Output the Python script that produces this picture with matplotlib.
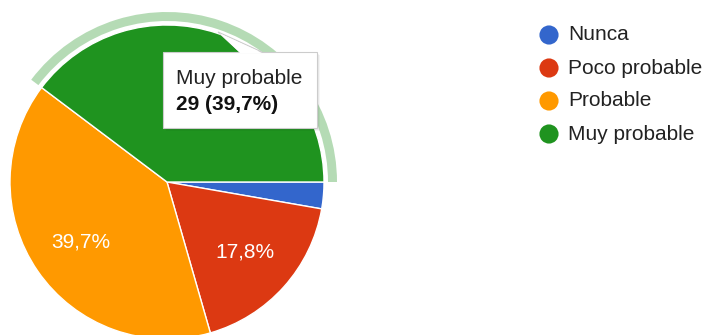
import numpy as np
import matplotlib.pyplot as plt
from matplotlib.patches import Wedge, Rectangle, Polygon

plt.rcParams['font.family'] = ['Liberation Sans', 'DejaVu Sans']

## DATA
labels = ['Nunca', 'Poco probable', 'Probable', 'Muy probable']
counts = [2, 13, 29, 29]
colors = ['#3366cc', '#dc3912', '#ff9900', '#1f931f']
highlight = 3  # slice under the tooltip

W, H = 705, 335
CX, CY, R = 167, H - 182, 157

fig = plt.figure(figsize=(W / 100, H / 100), dpi=100)
ax = fig.add_axes([0, 0, 1, 1])

total = sum(counts)


def pct_label(p):
    # small slices get no label
    if p < 5:
        return ''
    return ('%.1f%%' % p).replace('.', ',')


wedges, texts, autotexts = ax.pie(
    counts, colors=colors, startangle=0, counterclock=False,
    center=(CX, CY), radius=R, autopct=pct_label, pctdistance=0.67,
    wedgeprops=dict(edgecolor='white', linewidth=1),
    textprops=dict(color='white', fontsize=15))
# the tooltip sits on top of this slice's label
autotexts[highlight].remove()

ax.set_xlim(0, W)
ax.set_ylim(0, H)
ax.set_aspect('equal')
ax.axis('off')

# hover ring around the highlighted slice
hw = wedges[highlight]
ring = Wedge((CX, CY), 170, hw.theta1, hw.theta2, width=9,
             facecolor=colors[highlight], alpha=0.33, edgecolor='none')
ax.add_patch(ring)

# tooltip
bx0, by0, bx1, by1 = 163, H - 128, 317, H - 52
for i, a in enumerate([0.06, 0.05, 0.04]):
    ax.add_patch(Rectangle((bx0 + 1 + i, by0 - 1 - i), bx1 - bx0, by1 - by0,
                           facecolor='black', alpha=a, edgecolor='none', zorder=5))
ax.add_patch(Polygon([(218, H - 32), (240, by1), (262, by1)], closed=True,
                     facecolor='white', edgecolor='#cccccc', linewidth=0.8, zorder=6))
ax.add_patch(Rectangle((bx0, by0), bx1 - bx0, by1 - by0, facecolor='white',
                       edgecolor='#cccccc', linewidth=0.8, zorder=6))
ax.add_patch(Polygon([(219, H - 33), (240, by1 - 1), (262, by1 - 1)], closed=True,
                     facecolor='white', edgecolor='none', zorder=7))
pct = counts[highlight] / total * 100
ax.text(176, H - 78, labels[highlight], fontsize=15, color='#222222',
        va='center', ha='left', zorder=8)
ax.text(176, H - 105, '%d (%s)' % (counts[highlight], pct_label(pct)),
        fontsize=15, fontweight='bold', color='#111111',
        va='center', ha='left', zorder=8)

# legend
ly = [35, 68, 101, 134]
for y, lab, c in zip(ly, labels, colors):
    ax.scatter([549], [H - y], s=190, color=c, edgecolors='none', zorder=4)
    ax.text(568, H - y, lab, fontsize=15, color='#222222', va='center', ha='left')

fig.savefig('out.png', dpi=100)
